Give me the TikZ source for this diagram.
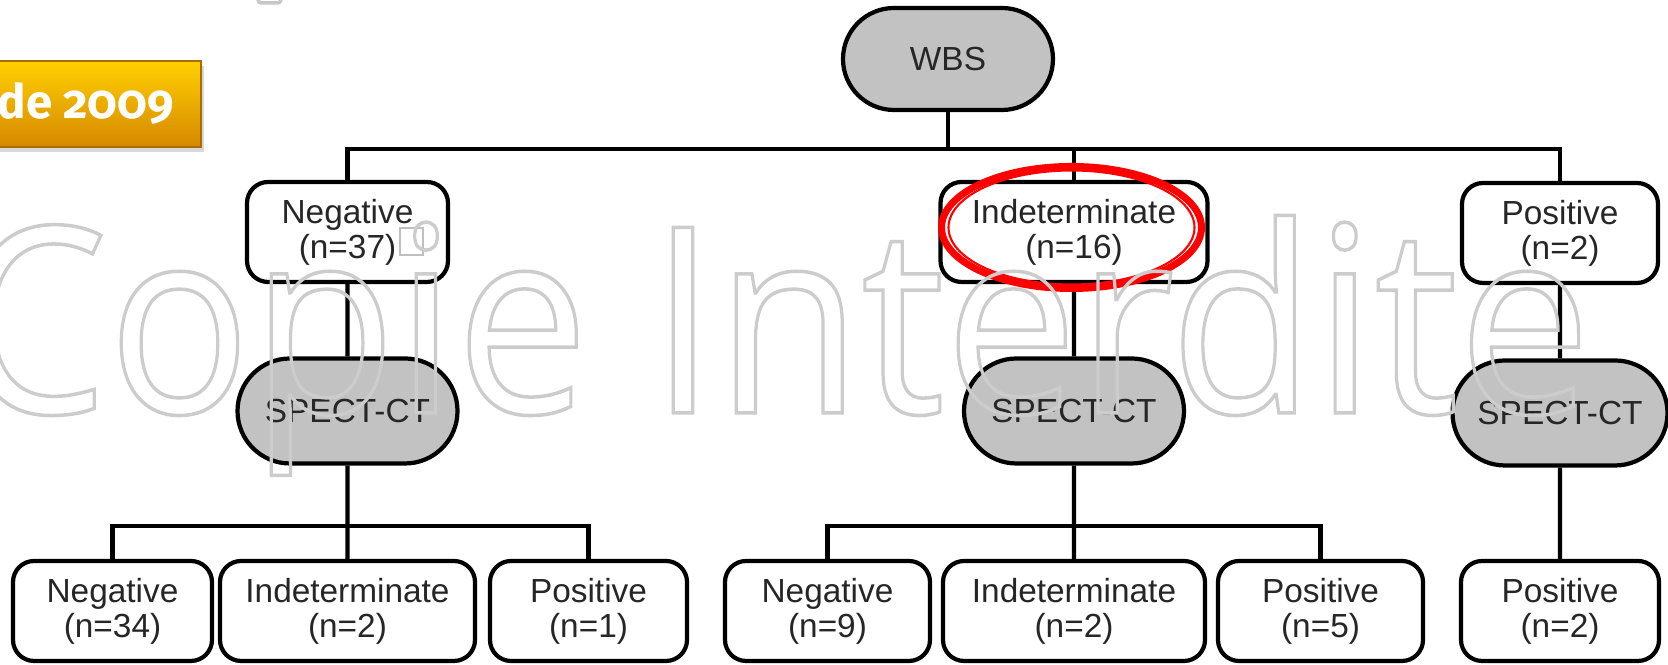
\documentclass[tikz,border=0pt]{standalone}
\usepackage{fontspec}
\setmainfont{Liberation Sans}
\newfontfamily\bannerfont[Numbers=OldStyle]{Fira Sans}
\newfontfamily\markfont{Open Sans}
\usepackage{tikz}
\usetikzlibrary{calc, shapes.misc, shadows}
\usepackage{xcolor}

\definecolor{bannertop}{RGB}{255,208,0}
\definecolor{bannerbot}{RGB}{214,136,0}
\definecolor{banneredge}{RGB}{168,108,0}
\definecolor{pillgray}{RGB}{194,194,194}

\begin{document}
\begin{tikzpicture}[
    box/.style={draw, line width=1.2pt, rounded corners=6pt, fill=white, text=black!85,
        align=center, minimum height=1cm, inner sep=0pt, font=\fontsize{9.5}{9.9}\selectfont},
    pill/.style={draw, line width=1.2pt, rounded rectangle, fill=pillgray, text=black!85,
        minimum height=1.05cm, minimum width=2.2cm, inner sep=0pt, font=\fontsize{9.5}{9.9}\selectfont},
    link/.style={line width=1.2pt},
    banner/.style={top color=bannertop, bottom color=bannerbot, draw=banneredge, line width=0.6pt,
        drop shadow={opacity=0.3, shadow xshift=0.03cm, shadow yshift=-0.05cm}},
    watermark/.style={text=black!20, inner sep=0pt, anchor=base west}
]
    \useasboundingbox (0, 0) rectangle (16.68, 6.65);
    \fill[white] (0, 0) rectangle (16.68, 6.65);

    % 标题残片
    \draw[black!22, line width=1pt, rounded corners=1pt] (2.58, 6.75) rectangle (2.81, 6.62);
    \node[banner, anchor=east, minimum width=2.5cm, minimum height=0.86cm, inner xsep=0.27cm,
        text width=1.96cm, align=right, text=white, font=\bannerfont\bfseries\fontsize{13.5}{15}\selectfont]
        (year) at (2.02, 5.61) {de\hspace{-0.1em} 2009};

    % WBS
    \node[pill, minimum width=2.1cm, minimum height=1.02cm] (wbs) at (9.48, 6.06) {WBS};

    % 第一层
    \node[box, minimum width=2.01cm] (neg37) at (3.475, 4.33) {Negative\\(n=37)};
    \node[box, minimum width=2.67cm] (ind16) at (10.74, 4.33) {Indeterminate\\(n=16)};
    \node[box, minimum width=1.96cm] (pos2) at (15.60, 4.32) {Positive\\(n=2)};

    % SPECT-CT
    \node[pill] (spect1) at (3.475, 2.54) {SPECT-CT};
    \node[pill] (spect2) at (10.74, 2.54) {SPECT-CT};
    \node[pill, minimum width=2.15cm] (spect3) at (15.60, 2.52) {SPECT-CT};

    % 第二层
    \node[box, minimum width=1.99cm] (neg34) at (1.125, 0.54) {Negative\\(n=34)};
    \node[box, minimum width=2.55cm] (ind2a) at (3.475, 0.54) {Indeterminate\\(n=2)};
    \node[box, minimum width=1.97cm] (pos1) at (5.885, 0.54) {Positive\\(n=1)};
    \node[box, minimum width=2.05cm] (neg9) at (8.275, 0.54) {Negative\\(n=9)};
    \node[box, minimum width=2.62cm] (ind2b) at (10.74, 0.54) {Indeterminate\\(n=2)};
    \node[box, minimum width=2.05cm] (pos5) at (13.205, 0.54) {Positive\\(n=5)};
    \node[box, minimum width=1.98cm] (pos2b) at (15.60, 0.54) {Positive\\(n=2)};

    % 连线
    \coordinate (top bar) at (0, 5.16);
    \coordinate (low bar) at (0, 1.39);
    \draw[link] (wbs.south) -- (wbs.south |- top bar);
    \draw[link] (neg37.north) -- (neg37.north |- top bar) -| (pos2.north);
    \draw[link] (ind16.north) -- (ind16.north |- top bar);
    \draw[link] (neg37) -- (spect1);
    \draw[link] (ind16) -- (spect2);
    \draw[link] (pos2) -- (spect3);
    \draw[link] (spect1) -- (ind2a);
    \draw[link] (neg34.north) -- (neg34.north |- low bar) -| (pos1.north);
    \draw[link] (spect2) -- (ind2b);
    \draw[link] (neg9.north) -- (neg9.north |- low bar) -| (pos5.north);
    \draw[link] (spect3) -- (pos2b);

    % 红圈
    \draw[red, line width=2pt] (10.715, 4.375) ellipse (1.30 and 0.61);
    \draw[red, line width=0.6pt] (10.715, 4.375) ellipse (1.23 and 0.57);

    % 小方框
    \draw[black!25, line width=0.8pt] (4.00, 4.37) rectangle (4.23, 4.10);

    % 水印
    \node[watermark, xscale=0.91] (stamp) at (-0.42, 2.52)
        {\markfont\fontsize{74}{75}\selectfont\special{pdf:literal direct 1 Tr 1 w}Copie Interdite\special{pdf:literal direct 0 Tr}};
\end{tikzpicture}
\end{document}
